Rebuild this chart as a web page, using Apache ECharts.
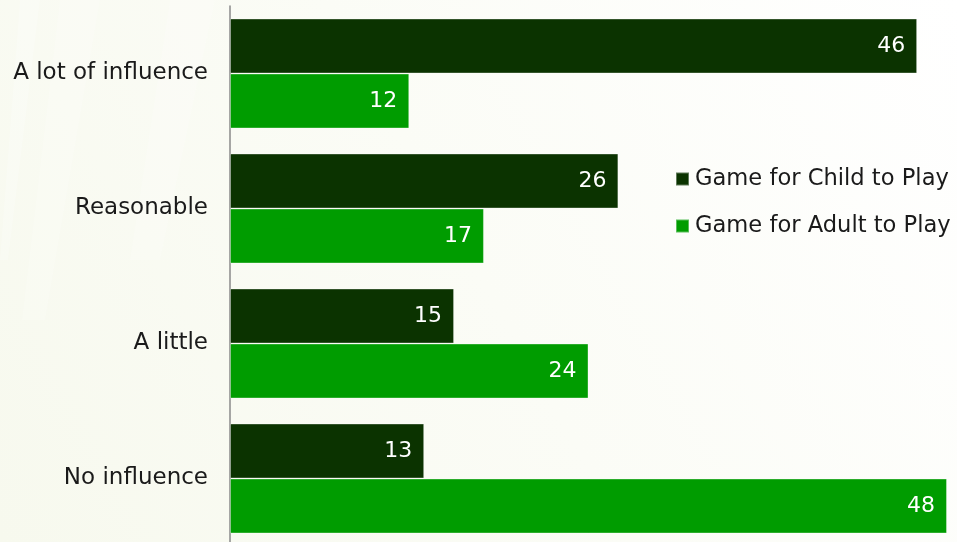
<!DOCTYPE html>
<html>
<head>
<meta charset="utf-8">
<style>
  html, body { margin: 0; padding: 0; }
  #chart { width: 957px; height: 542px; }
</style>
<script src="https://cdn.jsdelivr.net/npm/echarts@6/dist/echarts.min.js"></script>
</head>
<body>
<div id="chart"></div>
<script>
// Influence on game choice, by who the game is for
const categories = ['A lot of influence', 'Reasonable', 'A little', 'No influence'];
const childValues = [46, 26, 15, 13];
const adultValues = [12, 17, 24, 48];
const seriesNames = ['Game for Child to Play', 'Game for Adult to Play'];

const FONT = '"DejaVu Sans", sans-serif';
const DARK = '#0b3300';
const BRIGHT = '#009c00';

const chart = echarts.init(document.getElementById('chart'));

function barSeries(name, data, color) {
  return {
    name: name,
    type: 'bar',
    data: data,
    barGap: '0%',
    barWidth: 55,
    itemStyle: { color: color, borderColor: 'rgba(255,255,255,0.35)', borderWidth: 1 },
    label: {
      show: true,
      position: 'insideRight',
      distance: 12,
      color: '#ffffff',
      fontFamily: FONT,
      fontSize: 22
    },
    emphasis: { disabled: true }
  };
}

// faint light streaks across the top-left of the backdrop
function streak(points, opacity) {
  return {
    type: 'polygon',
    silent: true,
    z: -10,
    shape: { points: points },
    style: { fill: 'rgba(255,255,255,' + opacity + ')' }
  };
}

chart.setOption({
  animation: false,
  backgroundColor: {
    type: 'linear', x: 0, y: 1, x2: 1, y2: 0,
    colorStops: [
      { offset: 0, color: '#f7f9ee' },
      { offset: 0.5, color: '#fbfcf6' },
      { offset: 1, color: '#ffffff' }
    ]
  },
  graphic: [
    streak([[20, 0], [40, 0], [8, 260], [0, 260]], 0.22),
    streak([[60, 0], [100, 0], [45, 320], [22, 320]], 0.18),
    streak([[170, 0], [215, 0], [160, 260], [130, 260]], 0.18)
  ],
  grid: {
    left: 230, right: 10, top: 6, height: 540,
    containLabel: false,
    outerBoundsMode: 'none'
  },
  legend: {
    orient: 'vertical',
    left: 675,
    top: 167,
    padding: 0,
    itemWidth: 13,
    itemHeight: 13,
    itemGap: 23,
    icon: 'rect',
    selectedMode: false,
    textStyle: { fontFamily: FONT, fontSize: 22.6, lineHeight: 24, color: '#1a1a1a', padding: [0, 0, 0, 1] },
    data: seriesNames
  },
  xAxis: {
    type: 'value',
    min: 0,
    max: 48,
    show: false
  },
  yAxis: {
    type: 'category',
    inverse: true,
    data: categories,
    axisLine: { show: true, lineStyle: { color: '#8a8a8a', width: 1.5 } },
    axisTick: { show: false },
    axisLabel: { margin: 22, fontFamily: FONT, fontSize: 23, color: '#1a1a1a' }
  },
  series: [
    barSeries(seriesNames[0], childValues, DARK),
    barSeries(seriesNames[1], adultValues, BRIGHT)
  ]
});
</script>
</body>
</html>
